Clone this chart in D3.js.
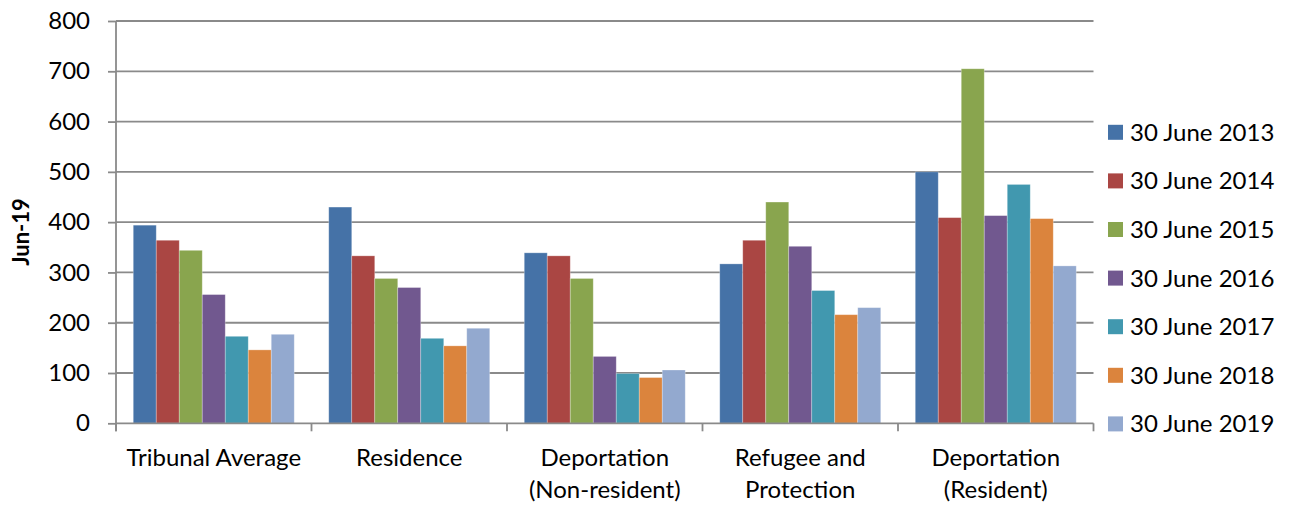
<!DOCTYPE html>
<html>
<head>
<meta charset="utf-8">
<script src="https://cdn.jsdelivr.net/npm/d3@7"></script>
<style>
  body { margin: 0; background: #fff; }
  text { font-family: Lato, "Open Sans", sans-serif; fill: #000; }
</style>
</head>
<body>
<div id="chart"></div>
<script>
// Bar chart: tribunal figures by category, one bar per year

var categories = [
  ["Tribunal Average"],
  ["Residence"],
  ["Deportation", "(Non-resident)"],
  ["Refugee and", "Protection"],
  ["Deportation", "(Resident)"]
]
var seriesNames = ["30 June 2013", "30 June 2014", "30 June 2015", "30 June 2016",
                   "30 June 2017", "30 June 2018", "30 June 2019"]
var colors = ["#4572A7", "#AA4643", "#89A54E", "#71588F", "#4198AF", "#DB843D", "#93A9CF"]

// one array per year, values in category order
var v2013 = [394, 430, 339, 317, 500]
var v2014 = [364, 333, 333, 364, 409]
var v2015 = [344, 288, 288, 440, 705]
var v2016 = [256, 270, 133, 352, 413]
var v2017 = [173, 169, 99, 264, 475]
var v2018 = [146, 154, 91, 216, 407]
var v2019 = [177, 189, 106, 230, 313]
var yTicks = [0, 100, 200, 300, 400, 500, 600, 700, 800]
var yTitle = "Jun-19"

var values = [v2013, v2014, v2015, v2016, v2017, v2018, v2019]

var width = 1289, height = 507
var margin = {top: 21, left: 116, right: 195.5, bottom: 83}

var svg = d3.select('#chart')
  .append('svg')
    .attr('width', width)
    .attr('height', height)

var x0 = d3.scaleBand()
    .domain(d3.range(categories.length))
    .range([margin.left, width - margin.right])
    .padding(0)

var x1 = d3.scaleBand()
    .domain(d3.range(seriesNames.length))
    .range([0, x0.bandwidth()])
    .paddingInner(0)
    .paddingOuter(0.75)

var y = d3.scaleLinear()
    .domain([0, 800])
    .range([height - margin.bottom - 0.7, margin.top])

// gridlines
svg.append('g')
  .selectAll('line')
  .data(yTicks.slice(1))
  .join('line')
    .attr('x1', margin.left)
    .attr('x2', width - margin.right)
    .attr('y1', d => y(d))
    .attr('y2', d => y(d))
    .attr('stroke', '#8a8a8a')
    .attr('stroke-width', 1.8)

// bars
var groups = svg.append('g')
  .selectAll('g')
  .data(categories.map((c, i) => i))
  .join('g')
    .attr('transform', i => 'translate(' + x0(i) + ',0)')

groups.selectAll('rect')
  .data(ci => values.map((s, si) => ({si: si, v: s[ci]})))
  .join('rect')
    .attr('x', d => x1(d.si))
    .attr('width', x1.bandwidth())
    .attr('y', d => y(d.v))
    .attr('height', d => y(0) - y(d.v))
    .attr('fill', d => colors[d.si])
    .attr('stroke', 'rgba(255,255,255,0.35)')
    .attr('stroke-width', 0.8)

// y axis
var yAxis = g => g
  .attr('transform', 'translate(' + margin.left + ',0)')
  .call(d3.axisLeft(y).tickValues(yTicks).tickSize(8).tickPadding(18).tickSizeOuter(0))
  .call(g => g.select('.domain').remove())
  .call(g => g.selectAll('.tick line').attr('stroke', '#8a8a8a').attr('stroke-width', 1.8))
  .call(g => g.selectAll('.tick text')
      .style('font-size', '24px')
      .style('font-family', 'Lato, sans-serif')
      .attr('fill', '#000'))

svg.append('g').call(yAxis)

svg.append('line')
    .attr('x1', margin.left).attr('x2', margin.left)
    .attr('y1', margin.top).attr('y2', y(0) + 8)
    .attr('stroke', '#8a8a8a')
    .attr('stroke-width', 1.8)

// x axis
var bounds = d3.range(categories.length).map(i => x0(i)).concat([width - margin.right])

svg.append('line')
    .attr('x1', margin.left).attr('x2', width - margin.right)
    .attr('y1', y(0)).attr('y2', y(0))
    .attr('stroke', '#8a8a8a')
    .attr('stroke-width', 1.8)

svg.append('g')
  .selectAll('line')
  .data(bounds)
  .join('line')
    .attr('x1', d => d).attr('x2', d => d)
    .attr('y1', y(0)).attr('y2', y(0) + 8)
    .attr('stroke', '#8a8a8a')
    .attr('stroke-width', 1.8)

svg.append('g')
  .selectAll('text')
  .data(categories)
  .join('text')
    .attr('text-anchor', 'middle')
    .style('font-size', '24px')
    .attr('x', (d, i) => x0(i) + x0.bandwidth() / 2)
    .attr('y', 466)
  .selectAll('tspan')
  .data(d => d)
  .join('tspan')
    .attr('x', function() { return this.parentNode.getAttribute('x') })
    .attr('dy', (d, i) => i === 0 ? 0 : 32)
    .text(d => d)

// y title
svg.append('text')
    .attr('transform', 'translate(29,232) rotate(-90)')
    .attr('text-anchor', 'middle')
    .style('font-size', '22px')
    .style('font-weight', 'bold')
    .text(yTitle)

// legend
var legend = svg.append('g')
  .selectAll('g')
  .data(seriesNames)
  .join('g')
    .attr('transform', (d, i) => 'translate(1108,' + (132.3 + i * 48.6) + ')')

legend.append('rect')
    .attr('x', 0)
    .attr('y', -7.5)
    .attr('width', 15)
    .attr('height', 15)
    .attr('fill', (d, i) => colors[i])

legend.append('text')
    .attr('x', 22)
    .attr('dy', '0.35em')
    .style('font-size', '24px')
    .text(d => d)
</script>
</body>
</html>
